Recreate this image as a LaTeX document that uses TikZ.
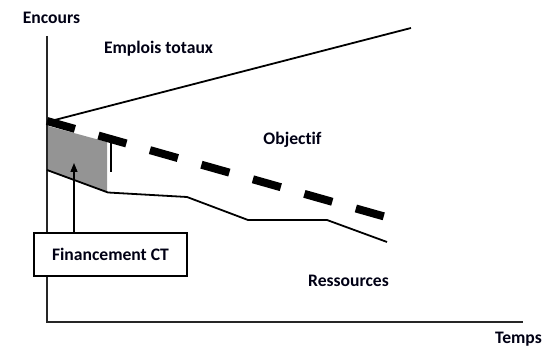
\documentclass[tikz,border=0pt]{standalone}
\usepackage{fontspec}
\setmainfont{Carlito}[Ligatures=NoCommon]
\usetikzlibrary{arrows.meta}
\begin{document}
\begin{tikzpicture}[x=1pt,y=-1pt,
  lbl/.style={font=\fontsize{17.6}{20}\selectfont\bfseries, inner sep=0pt, anchor=base, text=black!92!blue},
  axisline/.style={line width=2pt, black!85},
  curve/.style={line width=1.8pt, line join=round},
  objline/.style={line width=8pt, dash pattern=on 29pt off 24.5pt},
  finbox/.style={draw, line width=1.2pt, fill=white, minimum width=153pt, minimum height=43pt,
    inner sep=0pt, font=\fontsize{17.6}{20}\selectfont\bfseries, text=black!92!blue},
]
\useasboundingbox (0,0) rectangle (547,347);

% key points
\coordinate (origin) at (47,322);
\coordinate (ytop) at (47,36);
\coordinate (xend) at (523,322);
\coordinate (e0) at (47,122);
\coordinate (e1) at (411,28);
\coordinate (o0) at (47,121);
\coordinate (o1) at (386,217);
\coordinate (r0) at (47,170);
\coordinate (r1) at (108,192.5);
\coordinate (r2) at (187,197);
\coordinate (r3) at (248,220);
\coordinate (r4) at (327,220);
\coordinate (r5) at (387,242);
\coordinate (g0) at (48,126);
\coordinate (g1) at (107,142);
\coordinate (g2) at (107,192);
\coordinate (g3) at (48,171);
\coordinate (m0) at (111,137);
\coordinate (m1) at (111,172);
\coordinate (arrowtip) at (74,163);

% short-term financing area
\fill[black!42] (g0) -- (g1) -- (g2) -- (g3) -- cycle;

% axes
\draw[axisline] (ytop) -- (origin) -- (xend);

% total uses, target, resources
\draw[curve] (e0) -- (e1);
\draw[objline] (o0) -- (o1);
\draw[curve] (r0) -- (r1) -- (r2) -- (r3) -- (r4) -- (r5);
\draw[line width=2.4pt] (m0) -- (m1);

% label box and its pointer
\node[finbox] (fin) at (110.5,254.5) {Financement CT};
\draw[line width=1.4pt, -{Triangle[length=9pt,width=7pt]}] (arrowtip |- fin.north) -- (arrowtip);

% texts
\node[lbl] (encours) at (51.5,23.5) {Encours};
\node[lbl] (emplois) at (158.5,53.5) {Emplois totaux};
\node[lbl] (objectif) at (292.5,144.5) {Objectif};
\node[lbl] (ressources) at (348.5,286.5) {Ressources};
\node[lbl] (temps) at (518.5,343.5) {Temps};
\end{tikzpicture}
\end{document}
